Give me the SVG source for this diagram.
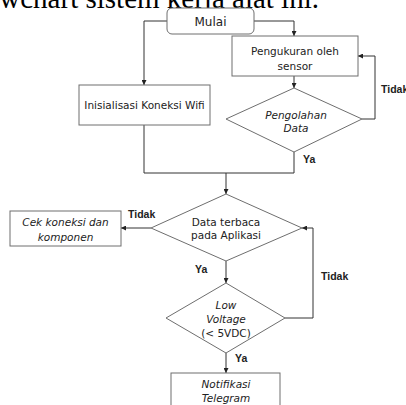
<svg xmlns="http://www.w3.org/2000/svg" width="406" height="405" viewBox="0 0 406 405">
<style>
.shape{fill:#fff;stroke:#6e6e6e;stroke-width:1}
.conn{fill:none;stroke:#333;stroke-width:1}
.t{font-family:"DejaVu Sans",sans-serif;font-size:10.5px;fill:#222;text-anchor:middle}
.i{font-style:italic}
.lbl{font-family:"Liberation Sans",Arial,sans-serif;font-size:10.5px;font-weight:bold;fill:#222}
.head{font-family:"Liberation Serif","Times New Roman",serif;font-size:29px;fill:#000}
</style>
<defs>
<marker id="arr" markerWidth="5" markerHeight="5" refX="5" refY="2.5" orient="auto" markerUnits="userSpaceOnUse">
<path d="M0,0 L5,2.5 L0,5 z" fill="#222"/>
</marker>
</defs>
<rect width="406" height="405" fill="#fff"/>
<text class="head" x="319" y="8" text-anchor="end">Flowchart sistem kerja alat ini.</text>
<g id="connectors">
<path class="conn" d="M167,21 H144 V85" marker-end="url(#arr)"/>
<path class="conn" d="M254,21 H294 V36" marker-end="url(#arr)"/>
<path class="conn" d="M294,76 V88" marker-end="url(#arr)"/>
<path class="conn" d="M362,119 H375 V56 H358" marker-end="url(#arr)"/>
<path class="conn" d="M144,125 V173 H294 V152"/>
<path class="conn" d="M226,173 V194" marker-end="url(#arr)"/>
<path class="conn" d="M151,228 H121" marker-end="url(#arr)"/>
<path class="conn" d="M226,261 V283" marker-end="url(#arr)"/>
<path class="conn" d="M285,318 H313 V228 H302" marker-end="url(#arr)"/>
<path class="conn" d="M226,353 V373" marker-end="url(#arr)"/>
<text class="lbl" x="381" y="93">Tidak</text>
<text class="lbl" x="303" y="163">Ya</text>
<text class="lbl" x="128" y="218">Tidak</text>
<text class="lbl" x="195" y="273">Ya</text>
<text class="lbl" x="321" y="280">Tidak</text>
<text class="lbl" x="235" y="362">Ya</text>
</g>
<g id="mulai">
<rect class="shape" x="167" y="8" width="87" height="26" rx="5"/>
<text class="t" x="210.5" y="25.5" style="font-size:12px">Mulai</text>
</g>
<g id="pengukuran">
<rect class="shape" x="232" y="36" width="126" height="40"/>
<text class="t" x="295" y="55">Pengukuran oleh</text>
<text class="t" x="295" y="70">sensor</text>
</g>
<g id="inisialisasi">
<rect class="shape" x="79" y="85" width="131" height="40"/>
<text class="t" x="144.5" y="109">Inisialisasi Koneksi Wifi</text>
</g>
<g id="pengolahan">
<polygon class="shape" points="294,88 362,119 294,152 226,119"/>
<text class="t i" x="296" y="119">Pengolahan</text>
<text class="t i" x="296" y="132">Data</text>
</g>
<g id="data-terbaca">
<polygon class="shape" points="226,194 302,228 226,261 151,228"/>
<text class="t" x="226" y="226">Data terbaca</text>
<text class="t" x="226" y="239">pada Aplikasi</text>
</g>
<g id="cek-koneksi">
<rect class="shape" x="10" y="211" width="111" height="35"/>
<text class="t i" x="65.5" y="226">Cek koneksi dan</text>
<text class="t i" x="65.5" y="241">komponen</text>
</g>
<g id="low-voltage">
<polygon class="shape" points="226,283 285,318 226,353 166,318"/>
<text class="t i" x="226" y="309">Low</text>
<text class="t i" x="226" y="323">Voltage</text>
<text class="t" x="226" y="337">(&lt; 5VDC)</text>
</g>
<g id="notifikasi">
<rect class="shape" x="171" y="373" width="109" height="40"/>
<text class="t i" x="226" y="388">Notifikasi</text>
<text class="t i" x="226" y="402">Telegram</text>
</g>
</svg>
